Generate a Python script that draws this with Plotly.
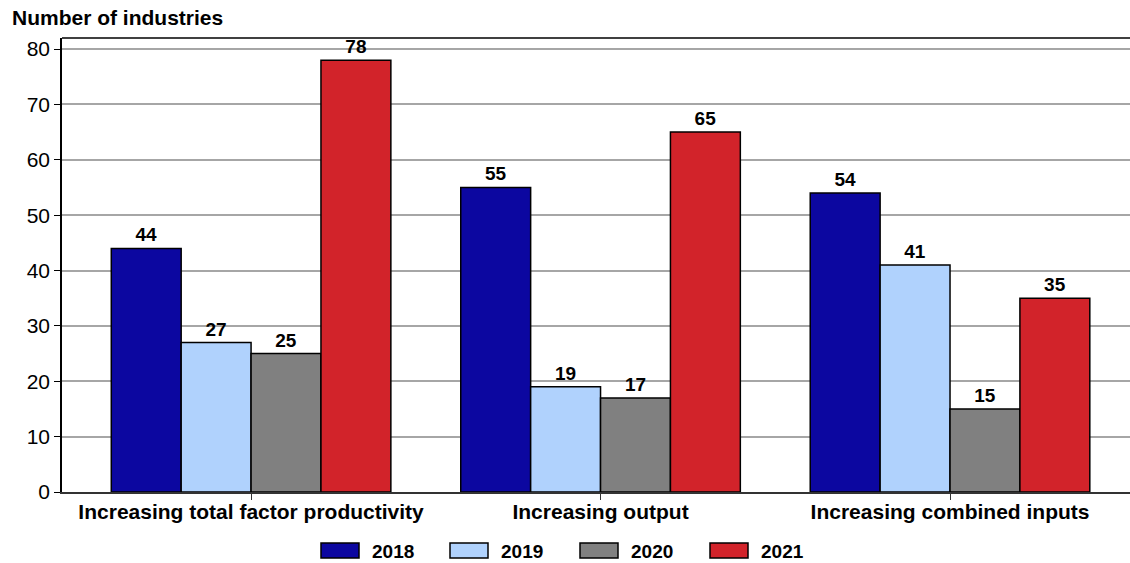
import plotly.graph_objects as go

categories = ["Increasing total factor productivity", "Increasing output", "Increasing combined inputs"]
years = ["2018", "2019", "2020", "2021"]
values_2018 = [44, 55, 54]
values_2019 = [27, 19, 41]
values_2020 = [25, 17, 15]
values_2021 = [78, 65, 35]
colors = ["#0c07a0", "#b0d2fd", "#808080", "#d2232a"]
y_ticks = [0, 10, 20, 30, 40, 50, 60, 70, 80]

series = [values_2018, values_2019, values_2020, values_2021]
font_family = "Liberation Sans, Arial, sans-serif"

fig = go.Figure()
for name, vals, col in zip(years, series, colors):
    fig.add_trace(go.Bar(
        x=categories, y=vals, name=name,
        marker=dict(color=col, line=dict(color="black", width=1.5)),
        text=[str(v) for v in vals], textposition="outside",
        textfont=dict(family=font_family, size=19, color="black", weight="bold"),
        cliponaxis=False, showlegend=False,
    ))

fig.update_layout(
    width=1130, height=563,
    margin=dict(l=62, r=0, t=38, b=71),
    paper_bgcolor="white", plot_bgcolor="white",
    barmode="group", bargap=0.2, bargroupgap=0,
    font=dict(family=font_family, color="black"),
    xaxis=dict(
        range=[-0.541, 2.515], showline=True, linecolor="#333333", linewidth=2,
        ticks="outside", ticklen=6, tickcolor="#333333", tickwidth=1,
        tickfont=dict(size=21, weight="bold"), showgrid=False, ticklabelstandoff=-6,
    ),
    yaxis=dict(
        range=[0, 82], tickvals=y_ticks, showline=True, linecolor="black", linewidth=1.5,
        ticks="outside", ticklen=6, tickcolor="black", tickfont=dict(size=21),
        showgrid=True, gridcolor="#a6a6a6", gridwidth=1.5, zeroline=False,
    ),
    uniformtext=dict(mode=False),
)

# top border of the plotting area
fig.add_shape(type="line", xref="paper", yref="paper", x0=0, x1=1, y0=1, y1=1,
              line=dict(color="black", width=1.5))

# chart title above the y axis
fig.add_annotation(text="<b>Number of industries</b>", xref="paper", yref="paper",
                   x=(10 - 62) / 1068, y=1, xanchor="left", yanchor="bottom", yshift=7,
                   showarrow=False, font=dict(size=21))

# legend drawn as wide swatches with labels
legend_x0 = [321, 450, 580, 710]
W, H = 1130, 563
for name, col, lx in zip(years, colors, legend_x0):
    fig.add_shape(type="rect", xref="paper", yref="paper",
                  x0=(lx - 62) / 1068, x1=(lx + 38 - 62) / 1068,
                  y0=(H - 71 - 558) / 454, y1=(H - 71 - 543) / 454,
                  fillcolor=col, line=dict(color="black", width=1.5))
    fig.add_annotation(text=f"<b>{name}</b>", xref="paper", yref="paper",
                       x=(lx + 49 - 62) / 1068, y=(H - 71 - 551) / 454,
                       xanchor="left", yanchor="middle", showarrow=False,
                       font=dict(size=19))

fig.write_html("out.html")
